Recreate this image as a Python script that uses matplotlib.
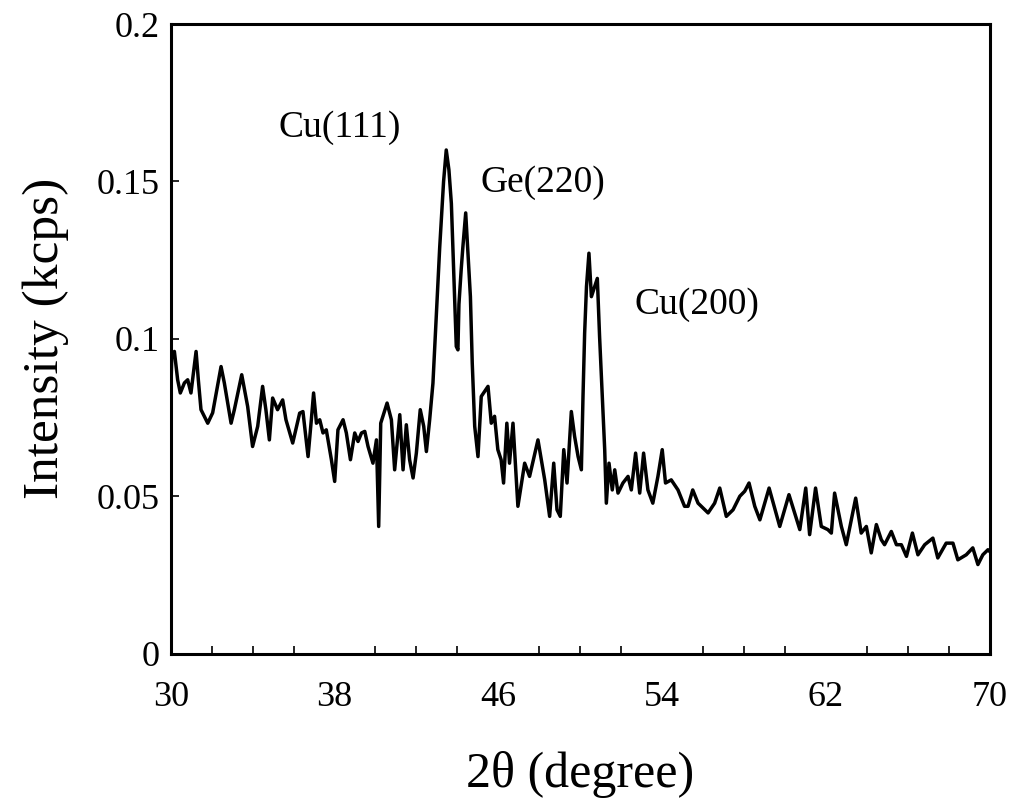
import matplotlib
matplotlib.use("Agg")
import matplotlib.pyplot as plt
from matplotlib.ticker import FixedLocator, FuncFormatter

plt.rcParams['font.family'] = ['Liberation Serif', 'DejaVu Serif']

# XRD scan
two_theta = [
    30.0, 30.05, 30.18, 30.34, 30.47, 30.67, 30.83, 30.99, 31.24, 31.35, 31.48, 31.81,
    32.05, 32.46, 32.62, 32.95, 33.11, 33.47, 33.76, 34.0, 34.25, 34.49, 34.65, 34.82,
    34.98, 35.22, 35.47, 35.63, 35.96, 36.3, 36.46, 36.71, 36.87, 36.98, 37.12, 37.28,
    37.44, 37.6, 37.85, 38.01, 38.17, 38.42, 38.58, 38.78, 38.99, 39.15, 39.32, 39.48,
    39.64, 39.88, 40.05, 40.16, 40.26, 40.57, 40.78, 40.94, 41.19, 41.35, 41.51, 41.67,
    41.84, 42.0, 42.19, 42.36, 42.49, 42.65, 42.81, 42.98, 43.14, 43.33, 43.46, 43.59,
    43.71, 43.82, 43.95, 44.03, 44.08, 44.19, 44.27, 44.41, 44.52, 44.64, 44.73, 44.85,
    45.01, 45.17, 45.5, 45.66, 45.82, 45.98, 46.14, 46.26, 46.42, 46.55, 46.72, 46.96,
    47.29, 47.53, 47.94, 48.27, 48.51, 48.71, 48.87, 49.03, 49.2, 49.36, 49.57, 49.73,
    49.9, 50.06, 50.14, 50.22, 50.31, 50.43, 50.55, 50.71, 50.84, 50.95, 51.08, 51.2,
    51.28, 51.41, 51.57, 51.69, 51.85, 52.09, 52.34, 52.5, 52.71, 52.91, 53.1, 53.31,
    53.55, 53.8, 54.01, 54.17, 54.45, 54.78, 55.1, 55.27, 55.5, 55.76, 56.25, 56.57,
    56.82, 57.14, 57.47, 57.8, 58.04, 58.25, 58.53, 58.78, 59.23, 59.75, 60.2, 60.73,
    61.02, 61.21, 61.5, 61.78, 62.1, 62.27, 62.43, 62.76, 63.0, 63.46, 63.73, 63.98,
    64.22, 64.47, 64.71, 64.87, 65.2, 65.45, 65.69, 65.94, 66.23, 66.5, 66.83, 67.23,
    67.47, 67.88, 68.21, 68.45, 68.86, 69.18, 69.43, 69.67, 69.92, 70.0,
]
intensity = [
    0.081, 0.094, 0.096, 0.087, 0.0828, 0.086, 0.087, 0.0828, 0.096, 0.087, 0.0775, 0.0732,
    0.0765, 0.0912, 0.086, 0.0732, 0.0775, 0.0886, 0.0785, 0.0658, 0.0722, 0.0849, 0.0775, 0.0679,
    0.0812, 0.0775, 0.0806, 0.0743, 0.0669, 0.0764, 0.0769, 0.0626, 0.0743, 0.0828, 0.0732, 0.0743,
    0.0701, 0.0711, 0.0616, 0.0547, 0.0711, 0.0743, 0.0701, 0.0616, 0.0701, 0.0674, 0.0701, 0.0706,
    0.0658, 0.0605, 0.0679, 0.0404, 0.0732, 0.0796, 0.0743, 0.0584, 0.0759, 0.0584, 0.0727, 0.0616,
    0.0558, 0.0637, 0.0775, 0.0722, 0.0642, 0.0743, 0.0859, 0.108, 0.129, 0.150, 0.160, 0.1537,
    0.143, 0.122, 0.0976, 0.0965, 0.111, 0.122, 0.129, 0.140, 0.127, 0.1134, 0.0923, 0.0722,
    0.0626, 0.0817, 0.0849, 0.0732, 0.0754, 0.0648, 0.0616, 0.0542, 0.0732, 0.0605, 0.0732, 0.0468,
    0.0605, 0.0563, 0.0679, 0.0552, 0.0436, 0.0605, 0.0457, 0.0436, 0.0648, 0.0542, 0.0769, 0.069,
    0.0626, 0.0584, 0.0817, 0.1018, 0.1166, 0.1272, 0.1134, 0.1166, 0.1192, 0.1007, 0.0817, 0.0648,
    0.0478, 0.0605, 0.052, 0.0584, 0.051, 0.0542, 0.0563, 0.052, 0.0637, 0.051, 0.0637, 0.052,
    0.0478, 0.0563, 0.0648, 0.0542, 0.0552, 0.052, 0.0468, 0.0468, 0.052, 0.0478, 0.0447, 0.0478,
    0.0526, 0.0436, 0.0457, 0.050, 0.0516, 0.0542, 0.0468, 0.0425, 0.0526, 0.0404, 0.0505, 0.0394,
    0.0526, 0.0378, 0.0526, 0.0404, 0.0394, 0.0383, 0.051, 0.0404, 0.0346, 0.0494, 0.0383, 0.0404,
    0.032, 0.041, 0.0362, 0.0346, 0.0388, 0.0346, 0.0346, 0.0309, 0.0383, 0.0314, 0.0346, 0.0367,
    0.0304, 0.0351, 0.0351, 0.0298, 0.0314, 0.0336, 0.0283, 0.0314, 0.033, 0.0325,
]

x_ticks = [30, 38, 46, 54, 62, 70]
y_ticks = [0, 0.05, 0.1, 0.15, 0.2]

peak_labels = ["Cu(111)", "Ge(220)", "Cu(200)"]
peak_label_pos = [(38.25, 0.167), (48.17, 0.1495), (55.69, 0.1108)]

fig = plt.figure(figsize=(10.16, 8.02), dpi=100)
ax = fig.add_axes([0.168, 0.185, 0.806, 0.785])

ax.plot(two_theta, intensity, color='black', linewidth=2.5)

for label, (lx, ly) in zip(peak_labels, peak_label_pos):
    ax.text(lx, ly, label, fontsize=27, ha='center', va='center')

ax.set_xlim(30, 70)
ax.set_ylim(0, 0.2)
ax.xaxis.set_major_locator(FixedLocator(x_ticks))
ax.xaxis.set_minor_locator(FixedLocator([t for t in range(32, 70, 2) if t not in x_ticks]))
ax.yaxis.set_major_locator(FixedLocator(y_ticks))
ax.yaxis.set_major_formatter(FuncFormatter(lambda v, p: "0" if v == 0 else f"{v:g}"))

ax.tick_params(axis='both', which='both', direction='in', labelsize=26,
               width=1.2, top=False, right=False)
ax.tick_params(axis='x', which='major', length=0, pad=20)
ax.tick_params(axis='x', which='minor', length=6)
ax.tick_params(axis='y', which='major', length=6, pad=8)

for s in ax.spines.values():
    s.set_linewidth(2.2)

ax.set_xlabel("2θ (degree)", fontsize=36, labelpad=26)
ax.set_ylabel("Intensity (kcps)", fontsize=37, labelpad=20)

fig.savefig("out.png", dpi=100)
